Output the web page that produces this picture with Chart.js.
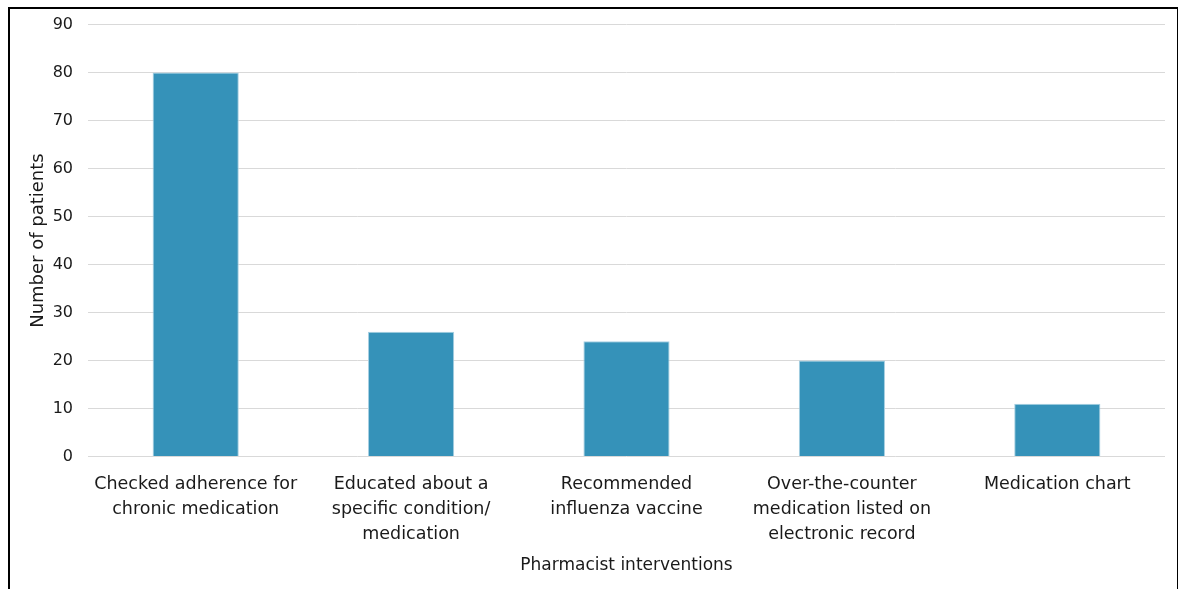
<!DOCTYPE html>
<html>
<head>
  <script src="https://cdn.jsdelivr.net/npm/chart.js"></script>
  <style>
    html, body { margin: 0; padding: 0; background: #fff; }
    #wrap { position: relative; width: 1181px; height: 589px; }
    #frame { position: absolute; left: 8px; top: 7px; width: 1167px; height: 600px;
             border-left: 2px solid #000; border-top: 2px solid #000; border-right: 1px solid #000; }
    canvas { position: absolute; left: 0; top: 0; }
  </style>
</head>
<body>
<div id="wrap">
  <canvas id="chart" width="1181" height="589"></canvas>
  <div id="frame"></div>
</div>
<script>
const categories = [
  ['Checked adherence for', 'chronic medication'],
  ['Educated about a', 'specific condition/', 'medication'],
  ['Recommended', 'influenza vaccine'],
  ['Over-the-counter', 'medication listed on', 'electronic record'],
  ['Medication chart']
];
const patients = [80, 26, 24, 20, 11];
const yTicks = { min: 0, max: 90, step: 10 };

const FONT = "'DejaVu Sans', sans-serif";
const ink = '#1a1a1a';

new Chart(document.getElementById('chart'), {
  type: 'bar',
  data: {
    labels: categories,
    datasets: [{
      data: patients,
      backgroundColor: '#3592b9',
      borderColor: '#a6cfe2',
      borderWidth: 1,
      categoryPercentage: 1,
      barPercentage: 0.4
    }]
  },
  options: {
    responsive: false,
    animation: false,
    layout: { padding: { top: 23, right: 16, bottom: 9, left: 28 } },
    plugins: { legend: { display: false }, tooltip: { enabled: false } },
    scales: {
      x: {
        grid: { display: false },
        border: { display: false },
        ticks: { color: ink, font: { family: FONT, size: 17.5, lineHeight: 1.43 }, maxRotation: 0, autoSkip: false, padding: 7 },
        title: { display: true, text: 'Pharmacist interventions', color: ink, font: { family: FONT, size: 17 }, padding: { top: 2 } }
      },
      y: {
        min: yTicks.min, max: yTicks.max,
        grid: { color: '#d9d9d9', lineWidth: 1, drawTicks: false },
        border: { display: false },
        ticks: { stepSize: yTicks.step, color: ink, font: { family: FONT, size: 16 }, padding: 15 },
        title: { display: true, text: 'Number of patients', color: ink, font: { family: FONT, size: 18 }, padding: 0 },
        afterFit: (s) => { s.width = 60; }
      }
    }
  }
});
</script>
</body>
</html>
